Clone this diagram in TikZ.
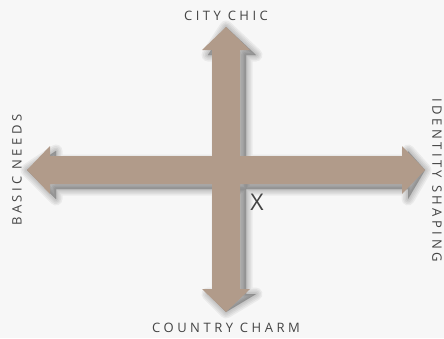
\documentclass[tikz,border=0pt]{standalone}
\usepackage{fontspec}
\setmainfont{Open Sans}
\usetikzlibrary{positioning}
\definecolor{taupe}{RGB}{177,155,138}
\definecolor{labelgray}{RGB}{68,68,68}
\definecolor{paper}{RGB}{247,247,247}
\tikzset{
  axislabel/.style={text=labelgray, inner sep=0pt,
    font=\fontsize{13}{15}\selectfont\addfontfeatures{LetterSpace=27}},
  shadowlayer/.style={fill=black, draw=black, fill opacity=0.05, draw opacity=0.05,
    line join=round, shift={(6,5)}}
}

\begin{document}
\begin{tikzpicture}[x=1pt,y=-1pt]
    % background
    \fill[paper] (0,0) rectangle (444,338);
    \useasboundingbox (0,0) rectangle (444,338);

    % arrow tips
    \coordinate (N) at (226,27);
    \coordinate (S) at (226,312);
    \coordinate (W) at (27,170);
    \coordinate (E) at (425,170);

    % outline of both double arrows
    \def\crossoutline{
      (212,50) -- (202,50) -- (N) -- (250,50) -- (240,50) -- (240,289)
      -- (250,289) -- (S) -- (202,289) -- (212,289) -- cycle
      (50,156) -- (402,156) -- (402,146) -- (E) -- (402,194) -- (402,184)
      -- (50,184) -- (50,194) -- (W) -- (50,146) -- cycle}

    % soft shadow
    \foreach \w in {13,10,7,4,1}
      \path[shadowlayer, line width=\w pt] \crossoutline;

    % the arrows
    \fill[taupe] \crossoutline;

    % axis labels
    \node[axislabel] (citychic) at (226,16) {CITY CHIC};
    \node[axislabel] (countrycharm) at (226,328) {COUNTRY CHARM};
    \node[axislabel, rotate=90] (basicneeds) at (17,170) {BASIC NEEDS};
    \node[axislabel, rotate=-90] (identityshaping) at (437,180) {IDENTITY SHAPING};

    % marker
    \node[text=labelgray, inner sep=0pt, font=\fontsize{23}{26}\selectfont] (mark) at (257,202) {X};
\end{tikzpicture}
\end{document}
